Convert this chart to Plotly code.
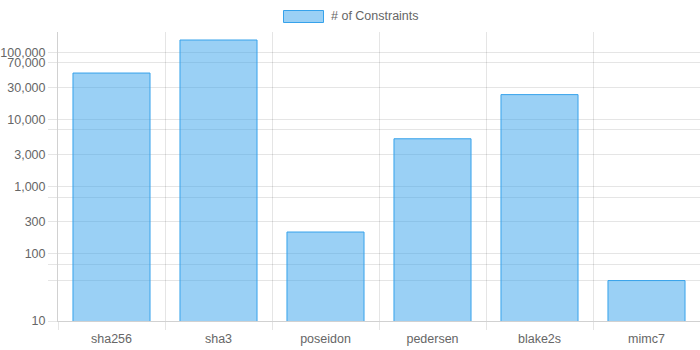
import math
import plotly.graph_objects as go

# Constraint counts per circuit
categories = ["sha256", "sha3", "poseidon", "pedersen", "blake2s", "mimc7"]
constraints = [49000, 152000, 211, 5150, 23400, 40]
series_name = "# of Constraints"

# Log-axis grid values and their labels (blank = grid line only)
grid_values = [10, 40, 70, 100, 300, 700, 1000, 3000, 7000, 10000, 30000, 70000, 100000]
tick_labels = ["10", "", "", "100", "300", "", "1,000", "3,000", "", "10,000", "30,000", "70,000", "100,000"]
y_min, y_max = 10, 200000

FILL = "rgba(54,162,235,0.5)"
EDGE = "rgb(54,162,235)"
GRID = "rgba(0,0,0,0.1)"
TEXT = "#666666"
FONT = "Liberation Sans, Arial, Helvetica, sans-serif"

W, H = 700, 350
ML, MR, MT, MB = 58, 0, 32, 29
plot_w = W - ML - MR
plot_h = H - MT - MB


def px_x(px):
    return (px - ML) / plot_w


def px_y(py):
    return (H - MB - py) / plot_h


fig = go.Figure(
    go.Bar(
        x=categories,
        y=constraints,
        name=series_name,
        marker=dict(color=FILL, line=dict(color=EDGE, width=1)),
        showlegend=False,
    )
)

fig.update_layout(
    width=W,
    height=H,
    margin=dict(l=ML, r=MR, t=MT, b=MB, pad=0),
    paper_bgcolor="white",
    plot_bgcolor="white",
    font=dict(family=FONT, size=12, color=TEXT),
    bargap=0.28,
    xaxis=dict(
        type="category",
        tickson="boundaries",
        showgrid=True,
        gridcolor=GRID,
        gridwidth=1,
        ticks="outside",
        ticklen=8,
        tickcolor=GRID,
        ticklabelstandoff=6,
        showline=True,
        linecolor="rgba(0,0,0,0.18)",
        linewidth=1,
        tickfont=dict(size=12.5, color=TEXT),
        fixedrange=True,
    ),
    yaxis=dict(
        type="log",
        range=[math.log10(y_min), math.log10(y_max)],
        tickmode="array",
        tickvals=grid_values,
        ticktext=tick_labels,
        showgrid=True,
        gridcolor=GRID,
        gridwidth=1,
        ticks="outside",
        ticklen=9,
        tickcolor=GRID,
        showline=True,
        linecolor="rgba(0,0,0,0.18)",
        linewidth=1,
        zeroline=False,
        tickfont=dict(size=12.5, color=TEXT),
        fixedrange=True,
    ),
)

# Legend swatch and label drawn above the plot area
fig.add_shape(
    type="rect",
    xref="paper", yref="paper",
    x0=px_x(283.5), x1=px_x(323.5),
    y0=px_y(22.5), y1=px_y(10.5),
    fillcolor=FILL,
    line=dict(color=EDGE, width=1),
)
fig.add_annotation(
    xref="paper", yref="paper",
    x=px_x(329), y=px_y(16.5),
    xanchor="left", yanchor="middle",
    text=series_name,
    showarrow=False,
    font=dict(family=FONT, size=12.5, color=TEXT),
)

fig.write_html("out.html", config={"displayModeBar": False})
